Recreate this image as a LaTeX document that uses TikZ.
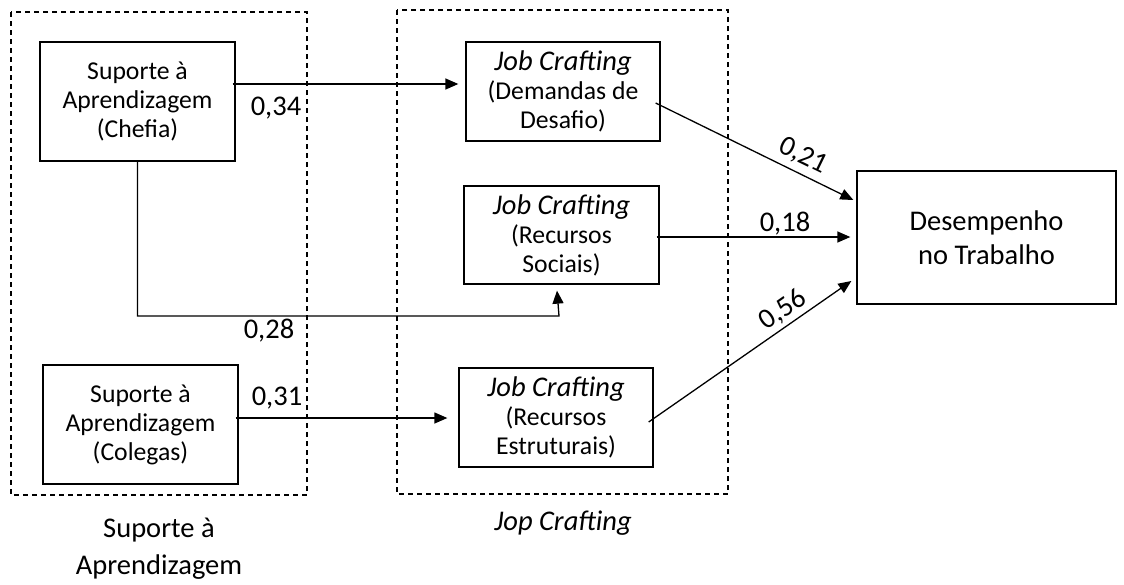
\documentclass[tikz,border=0pt]{standalone}
\usepackage{fontspec}
\setmainfont{Carlito}
\usetikzlibrary{arrows.meta,calc}

\newcommand{\jobc}{{\fontsize{28.5}{29}\selectfont\itshape Job Crafting}}

\begin{document}
\begin{tikzpicture}[x=1pt,y=-1pt,
  box/.style={draw, line width=1.3pt, align=center, inner sep=0pt,
    font=\fontsize{25.7}{29}\selectfont},
  group/.style={draw, line width=1.2pt, dash pattern=on 5pt off 4pt},
  link/.style={line width=1.3pt, -{Triangle[length=13pt,width=11pt]}},
  coef/.style={inner sep=0pt, font=\fontsize{28.5}{34}\selectfont},
  caption/.style={inner sep=0pt, align=center, font=\fontsize{28.5}{37}\selectfont},
]
\useasboundingbox (0,0) rectangle (1124,584);

% dashed groupings
\draw[group] (11,12) rectangle (307,495);
\draw[group] (397,10) rectangle (728,494);

% construct boxes
\node[box, minimum width=195pt, minimum height=119pt] (a) at (137.5,101.5)
  {Suporte à\\Aprendizagem\\(Chefia)};
\node[box, minimum width=195pt, minimum height=119pt] (col) at (140.5,424.5)
  {Suporte à\\Aprendizagem\\(Colegas)};
\node[box, minimum width=194pt, minimum height=99pt] (jc1) at (563,91.5)
  {\jobc\\(Demandas de\\Desafio)};
\node[box, minimum width=195pt, minimum height=98pt] (jc2) at (561.5,235)
  {\jobc\\(Recursos\\Sociais)};
\node[box, minimum width=194pt, minimum height=99pt] (jc3) at (556,417.5)
  {\jobc\\(Recursos\\Estruturais)};
\node[box, minimum width=259pt, minimum height=133pt,
  font=\fontsize{28.5}{34}\selectfont] (des) at (986.5,237.5)
  {Desempenho\\no Trabalho};

% paths
\coordinate (elbow) at (559,316);
\draw[link] ([shift={(-3,-17.5)}]a.east) -- ([shift={(-7,-7.5)}]jc1.west);
\draw[link] (a.south) -- (a.south |- elbow) -- (elbow) -- ([shift={(-4.5,6)}]jc2.south);
\draw[link] ([shift={(-3,-6.5)}]col.east) -- ([shift={(-11,0.5)}]jc3.west);
\draw[link] ([shift={(-5,11.5)}]jc1.east) -- ([shift={(-3,-37.5)}]des.west);
\draw[link] ([shift={(-3,2)}]jc2.east) -- ([shift={(-6,-0.5)}]des.west);
\draw[link] ([shift={(-5,4.5)}]jc3.east) -- ([shift={(-5,43.5)}]des.west);

% coefficients
\node[coef] (c34) at (276,108) {0,34};
\node[coef] (c28) at (269,331) {0,28};
\node[coef] (c31) at (277,398) {0,31};
\node[coef, rotate=-26] (c21) at (803,156) {0,21};
\node[coef] (c18) at (785,224) {0,18};
\node[coef, rotate=35] (c56) at (783,310) {0,56};

% group captions
\node[caption] (capS) at (159,549) {Suporte à\\Aprendizagem};
\node[caption, font=\fontsize{28.5}{37}\selectfont\itshape] (capJ) at (563,523) {Jop Crafting};
\end{tikzpicture}
\end{document}
